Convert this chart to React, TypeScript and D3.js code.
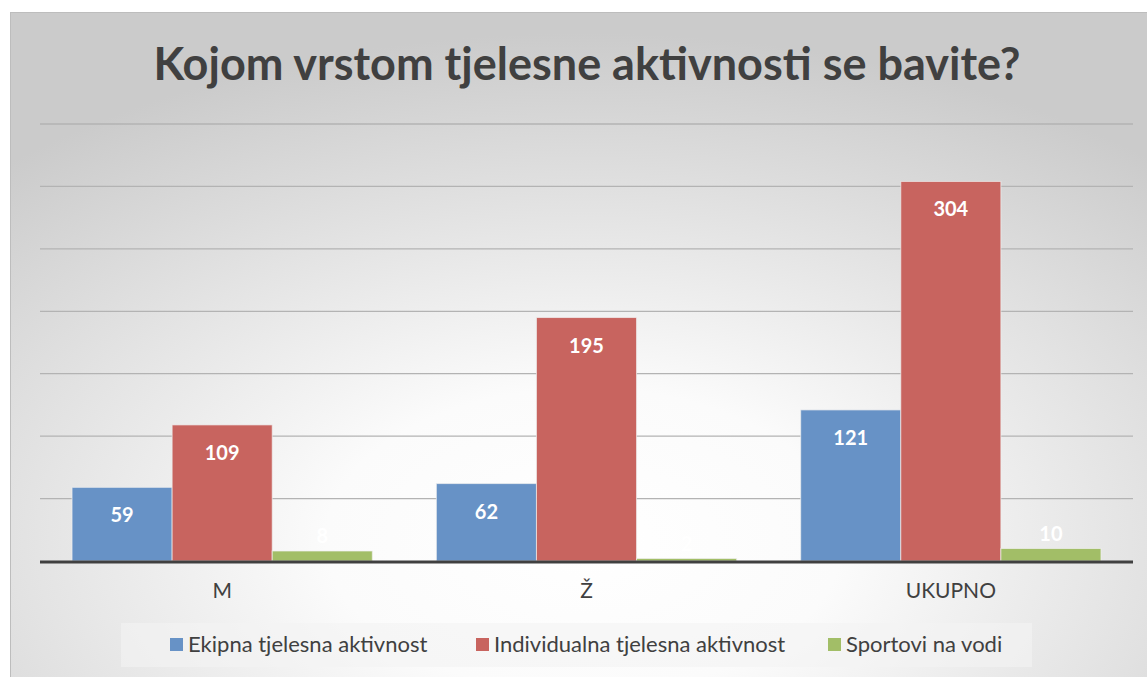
import React from "react";
import * as d3 from "d3";

const categories = ["M", "Ž", "UKUPNO"];
const seriesNames = ["Ekipna tjelesna aktivnost", "Individualna tjelesna aktivnost", "Sportovi na vodi"];
const ekipna = [59, 62, 121];
const individualna = [109, 195, 304];
const sportoviNaVodi = [8, 2, 10];
const yTicks = [0, 50, 100, 150, 200, 250, 300, 350];
const colors = ["#6792c6", "#c8645f", "#a2be67"];

const W = 1147, H = 677;
const plot = { left: 40, right: 1133, top: 124, bottom: 561 };
const font = "Lato, 'Open Sans', sans-serif";

export default function App() {
  const series = [ekipna, individualna, sportoviNaVodi];
  const x0 = d3.scaleBand<string>().domain(categories).range([plot.left, plot.right]).padding(0);
  const x1 = d3.scaleBand<string>().domain(seriesNames).range([0, x0.bandwidth()]).paddingInner(0).paddingOuter(0.32);
  const y = d3.scaleLinear().domain([0, 350]).range([plot.bottom, plot.top]);

  return (
    <svg width={W} height={H} style={{ position: "absolute", left: 0, top: 0 }}>
      <defs>
        <radialGradient id="bg" cx="0.5" cy="0.78" r="0.75" fx="0.5" fy="0.78">
          <stop offset="0" stopColor="#ffffff" />
          <stop offset="0.3" stopColor="#fbfbfb" />
          <stop offset="1" stopColor="#cbcbcb" />
        </radialGradient>
      </defs>
      <rect x={0} y={0} width={W} height={H} fill="#ffffff" />
      <rect x={10.5} y={12.5} width={W} height={H} fill="url(#bg)" stroke="#bdbdbd" strokeWidth={1} />
      <text x={587} y={80} textAnchor="middle" fontFamily={font} fontWeight="bold" fontSize={45} fill="#404040">
        Kojom vrstom tjelesne aktivnosti se bavite?
      </text>
      {yTicks.filter(t => t > 0).map(t => (
        <line key={t} x1={plot.left} x2={plot.right} y1={y(t)} y2={y(t)} stroke="#b3b3b3" strokeWidth={1.3} />
      ))}
      {categories.map((c, ci) => (
        <g key={c} transform={`translate(${x0(c)},0)`}>
          {seriesNames.map((s, si) => {
            const v = series[si][ci];
            const bx = x1(s)!;
            const bw = x1.bandwidth();
            const top = y(v);
            const h = y(0) - top;
            const inside = h > 40;
            return (
              <g key={s}>
                <rect x={bx} y={top} width={bw} height={h} fill={colors[si]} stroke="#f0f0f0" strokeOpacity={0.7} strokeWidth={1} />
                <text x={bx + bw / 2} y={inside ? top + 35 : top - 8} textAnchor="middle" fontFamily={font} fontWeight="bold" fontSize={20} fill="#ffffff">
                  {v}
                </text>
              </g>
            );
          })}
          <text x={x0.bandwidth() / 2} y={598} textAnchor="middle" fontFamily={font} fontSize={21} fill="#404040">
            {c}
          </text>
        </g>
      ))}
      <line x1={plot.left} x2={plot.right} y1={plot.bottom + 1} y2={plot.bottom + 1} stroke="#404040" strokeWidth={3} />
      <rect x={121} y={623} width={911} height={44} fill="#f4f4f4" opacity={0.6} />
      {seriesNames.map((s, i) => {
        const lx = [170, 476, 828][i];
        return (
          <g key={s}>
            <rect x={lx} y={638} width={13} height={13} fill={colors[i]} />
            <text x={lx + 18} y={652} fontFamily={font} fontSize={22} fill="#404040">{s}</text>
          </g>
        );
      })}
    </svg>
  );
}
